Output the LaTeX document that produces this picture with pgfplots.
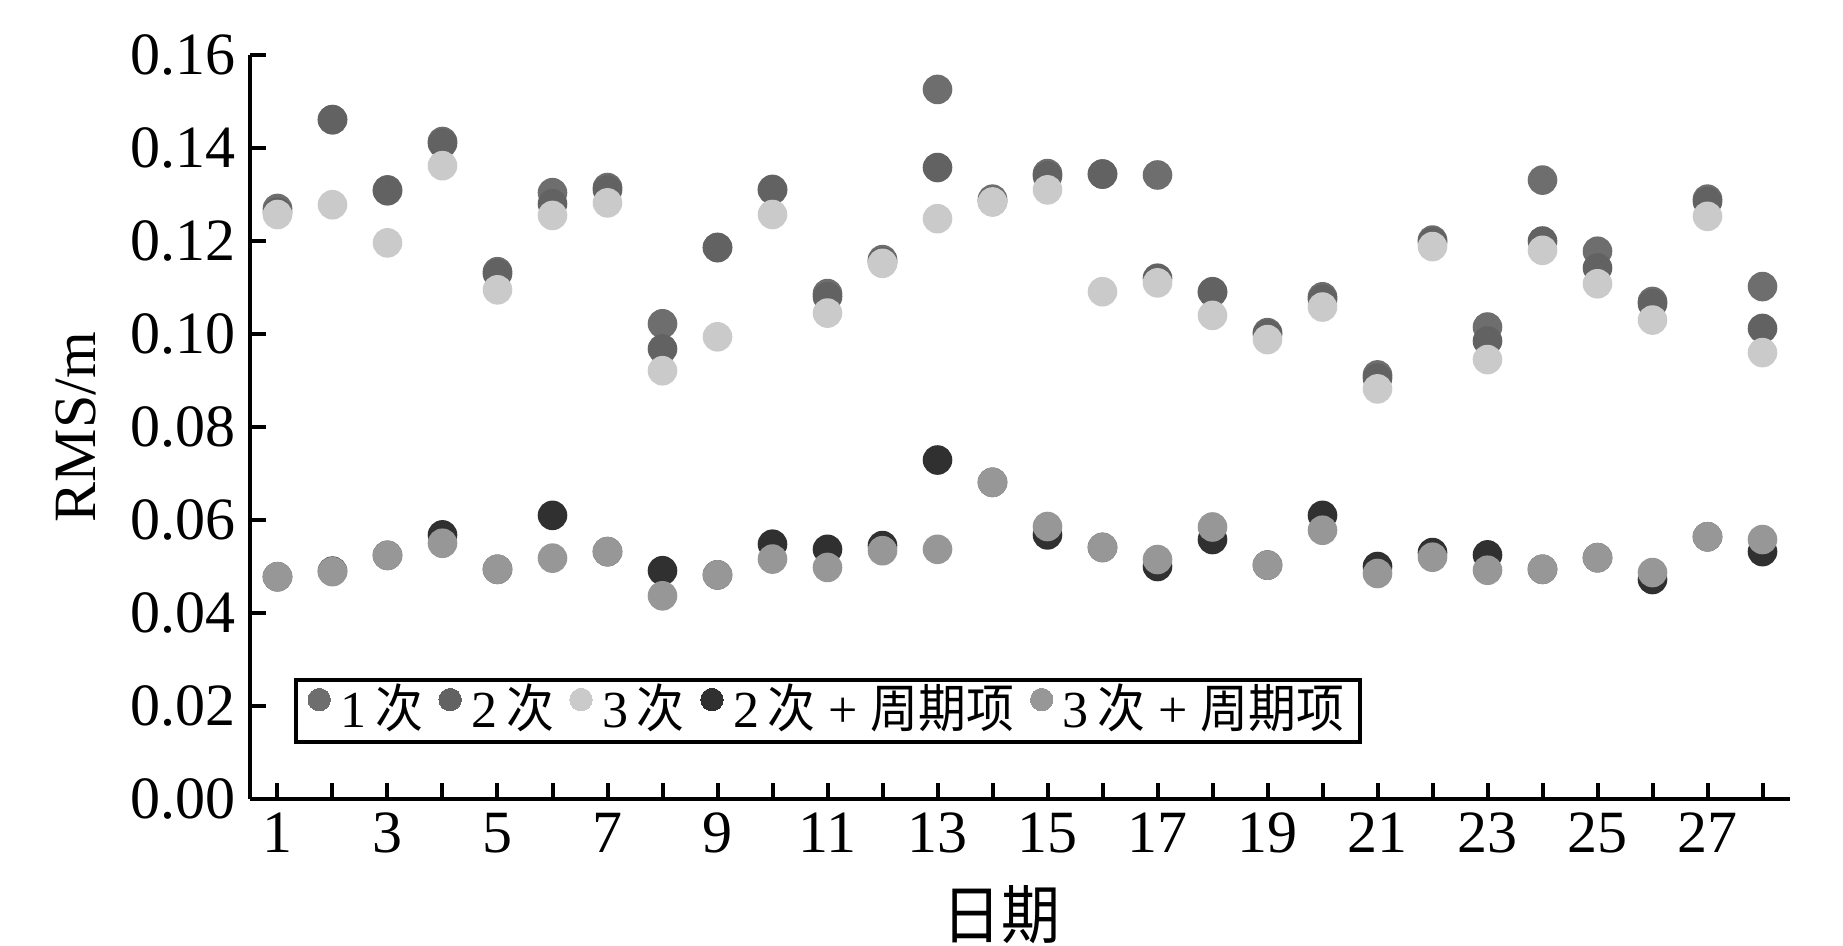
\documentclass[border=0pt]{standalone}
\usepackage{pgfplots}
\pgfplotsset{compat=1.18}
\usepackage{pgfplotstable}
\usepackage{fontspec}
\setmainfont{Liberation Serif}
\newfontfamily\cjk[FakeStretch=0.92]{Noto Sans CJK SC}
\definecolor{cA}{HTML}{6E6E6E}
\definecolor{cB}{HTML}{626262}
\definecolor{cC}{HTML}{CACACA}
\definecolor{cD}{HTML}{303030}
\definecolor{cE}{HTML}{979797}
\pgfplotstableread{
day a b c d e
1 0.1270 0.1262 0.1257 0.0478 0.0478
2 0.1461 0.1461 0.1278 0.0490 0.0489
3 0.1310 0.1308 0.1196 0.0524 0.0524
4 0.1414 0.1410 0.1362 0.0568 0.0550
5 0.1134 0.1130 0.1095 0.0494 0.0494
6 0.1304 0.1280 0.1255 0.0610 0.0518
7 0.1315 0.1310 0.1282 0.0532 0.0532
8 0.1022 0.0968 0.0921 0.0491 0.0437
9 0.1186 0.1186 0.0994 0.0482 0.0482
10 0.1311 0.1310 0.1257 0.0548 0.0516
11 0.1087 0.1080 0.1045 0.0537 0.0498
12 0.1160 0.1155 0.1152 0.0545 0.0534
13 0.1526 0.1358 0.1248 0.0729 0.0537
14 0.1290 0.1285 0.1284 0.0681 0.0681
15 0.1345 0.1340 0.1310 0.0568 0.0586
16 0.1344 0.1344 0.1091 0.0541 0.0541
17 0.1342 0.1120 0.1110 0.0500 0.0515
18 0.1091 0.1090 0.1040 0.0558 0.0585
19 0.1003 0.1000 0.0988 0.0503 0.0503
20 0.1080 0.1075 0.1058 0.0610 0.0578
21 0.0912 0.0905 0.0882 0.0500 0.0485
22 0.1202 0.1198 0.1188 0.0530 0.0520
23 0.1015 0.0985 0.0945 0.0525 0.0492
24 0.1331 0.1200 0.1180 0.0494 0.0494
25 0.1178 0.1142 0.1108 0.0519 0.0519
26 0.1070 0.1065 0.1030 0.0472 0.0487
27 0.1290 0.1285 0.1253 0.0564 0.0564
28 0.1102 0.1012 0.0960 0.0532 0.0558
}\data
\begin{document}
\begin{tikzpicture}
\begin{axis}[
  scale only axis,
  width=385pt, height=186pt,
  xmin=0.5, xmax=28.5,
  ymin=0, ymax=0.16,
  axis lines=left,
  axis line style={-, line width=1pt},
  tick align=inside,
  major tick length=4pt,
  minor tick length=4pt,
  tick style={line width=1pt, black},
  xtick={1,3,...,27},
  minor xtick={2,4,...,28},
  ytick={0,0.02,...,0.161},
  ticklabel style={font=\fontsize{15}{18}\selectfont},
  yticklabel style={/pgf/number format/.cd, fixed, fixed zerofill, precision=2, assume math mode=true},
  xticklabel style={/pgf/number format/assume math mode=true},
  ylabel={RMS/m},
  ylabel style={at={(axis description cs:-0.113,0.5)}, anchor=center, font=\fontsize{15}{18}\selectfont},
  xlabel={\cjk 日期},
  xlabel style={at={(axis description cs:0.488,-0.155)}, anchor=center, font=\fontsize{16}{18}\selectfont},
  clip=false,
  legend columns=5,
  legend style={at={(0.0286,0.074)}, anchor=south west, draw=black, line width=1pt,
    font=\fontsize{13}{15}\selectfont, inner xsep=3pt, inner ysep=1pt,
    nodes={inner xsep=1pt, inner ysep=1pt, text height=10pt, text depth=1.5pt},
    /tikz/every odd column/.append style={column sep=1.5pt},
    /tikz/every even column/.append style={column sep=3pt}},
  legend image code/.code={\draw[#1, mark size=2.8pt, line width=0pt] plot coordinates {(0cm,0.1cm)};},
]
\addplot[only marks, mark=*, mark size=3.5pt, color=cA] table[x=day, y=a] {\data};
\addlegendentry{1\,{\cjk 次}}
\addplot[only marks, mark=*, mark size=3.5pt, color=cB] table[x=day, y=b] {\data};
\addlegendentry{2\,{\cjk 次}}
\addplot[only marks, mark=*, mark size=3.5pt, color=cC] table[x=day, y=c] {\data};
\addlegendentry{3\,{\cjk 次}}
\addplot[only marks, mark=*, mark size=3.5pt, color=cD] table[x=day, y=d] {\data};
\addlegendentry{2\,{\cjk 次} + {\cjk 周期项}}
\addplot[only marks, mark=*, mark size=3.5pt, color=cE] table[x=day, y=e] {\data};
\addlegendentry{3\,{\cjk 次} + {\cjk 周期项}}
\end{axis}
\pgfresetboundingbox
\path (-62.5pt,-36.5pt) rectangle (398.25pt,199.75pt);
\end{tikzpicture}
\end{document}
